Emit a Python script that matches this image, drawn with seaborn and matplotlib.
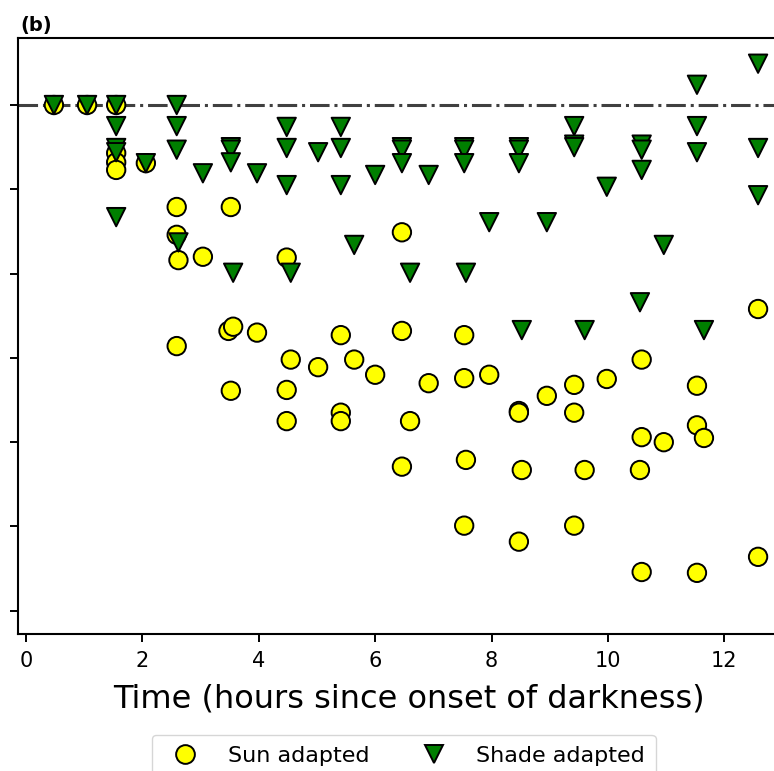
import matplotlib
matplotlib.use('Agg')
import matplotlib.pyplot as plt
import pandas as pd
import seaborn as sns

# Values (relative units, reference level = 1.0)
sun_time = [0.48, 1.05, 1.55, 1.55, 1.55, 1.55, 2.06,
            2.59, 2.59, 2.62, 2.59, 3.04,
            3.52, 3.48, 3.56, 3.52, 3.97,
            4.48, 4.55, 4.48, 4.48, 5.02,
            5.41, 5.41, 5.41, 5.64, 6.0,
            6.46, 6.46, 6.46, 6.60, 6.92,
            7.53, 7.53, 7.56, 7.53, 7.96,
            8.47, 8.47, 8.52, 8.47, 8.95,
            9.42, 9.42, 9.42, 9.60, 9.98,
            10.58, 10.58, 10.55, 10.58, 10.96,
            11.53, 11.53, 11.53, 11.65, 12.58, 12.58]
sun_value = [1.0, 1.0, 1.0, 0.943, 0.932, 0.923, 0.931,
             0.879, 0.846, 0.816, 0.714, 0.820,
             0.879, 0.732, 0.737, 0.661, 0.730,
             0.819, 0.698, 0.662, 0.625, 0.689,
             0.727, 0.635, 0.625, 0.698, 0.680,
             0.849, 0.732, 0.571, 0.625, 0.670,
             0.727, 0.676, 0.579, 0.501, 0.680,
             0.637, 0.635, 0.567, 0.482, 0.655,
             0.668, 0.635, 0.501, 0.567, 0.675,
             0.698, 0.606, 0.567, 0.446, 0.600,
             0.667, 0.620, 0.445, 0.605, 0.758, 0.464]

shade_time = [0.48, 1.05, 1.55, 1.55, 1.55, 1.55, 1.55, 2.06,
              2.59, 2.59, 2.59, 2.62, 3.04,
              3.52, 3.52, 3.52, 3.56, 3.97,
              4.48, 4.48, 4.48, 4.55, 5.02,
              5.41, 5.41, 5.41, 5.64, 6.0,
              6.46, 6.46, 6.46, 6.60, 6.92,
              7.53, 7.53, 7.53, 7.56, 7.96,
              8.47, 8.47, 8.47, 8.52, 8.95,
              9.42, 9.42, 9.42, 9.60, 9.98,
              10.58, 10.58, 10.58, 10.55, 10.96,
              11.53, 11.53, 11.53, 11.65,
              12.58, 12.58, 12.58]
shade_value = [1.0, 1.0, 1.0, 0.975, 0.949, 0.944, 0.867, 0.931,
               1.0, 0.975, 0.947, 0.837, 0.919,
               0.950, 0.947, 0.932, 0.801, 0.919,
               0.974, 0.949, 0.905, 0.801, 0.944,
               0.974, 0.949, 0.905, 0.834, 0.917,
               0.950, 0.947, 0.931, 0.801, 0.917,
               0.950, 0.947, 0.931, 0.801, 0.861,
               0.950, 0.947, 0.931, 0.733, 0.861,
               0.975, 0.953, 0.950, 0.733, 0.903,
               0.953, 0.947, 0.923, 0.766, 0.834,
               1.024, 0.975, 0.944, 0.733,
               1.049, 0.949, 0.893]

groups = ['Sun adapted', 'Shade adapted']
y_ticks = [0.4, 0.5, 0.6, 0.7, 0.8, 0.9, 1.0]
x_ticks = [0, 2, 4, 6, 8, 10, 12]

df = pd.DataFrame({
    'time': sun_time + shade_time,
    'value': sun_value + shade_value,
    'group': [groups[0]] * len(sun_time) + [groups[1]] * len(shade_time),
})

sns.set_style('ticks')
plt.rcParams['font.family'] = ['DejaVu Sans']
plt.rcParams['axes.edgecolor'] = 'black'
plt.rcParams['axes.linewidth'] = 1.5
plt.rcParams['text.color'] = 'black'
plt.rcParams['axes.labelcolor'] = 'black'
plt.rcParams['xtick.color'] = 'black'
plt.rcParams['ytick.color'] = 'black'

fig = plt.figure(figsize=(7.74, 7.71), dpi=100)
ax = fig.add_axes([18 / 774, 1 - 634.3 / 771, 1.0103, (634.3 - 38) / 771])

ax.axhline(1.0, color='#404040', linestyle='-.', linewidth=2.2, zorder=1)
sns.scatterplot(data=df, x='time', y='value', hue='group', style='group',
                markers={'Sun adapted': 'o', 'Shade adapted': 'v'},
                palette={'Sun adapted': '#ffff00', 'Shade adapted': '#007f00'},
                s=175, edgecolor='black', linewidth=1.4, ax=ax, zorder=3)

ax.set_xlim(-0.137, 13.3)
ax.set_ylim(0.3721, 1.0795)
ax.set_xticks(x_ticks)
ax.set_yticks(y_ticks)
ax.set_yticklabels([])
ax.tick_params(axis='both', length=6, width=1.4, color='black')
ax.tick_params(axis='x', labelsize=15, pad=6)
ax.set_xlabel('Time (hours since onset of darkness)', fontsize=23, labelpad=9)
ax.set_ylabel('')
for side in ['top', 'right', 'left', 'bottom']:
    ax.spines[side].set_visible(True)

handles, labels = ax.get_legend_handles_labels()
ax.legend_.remove()
for h in handles:
    h.set_markersize(13.5)
    h.set_markeredgecolor('black')
    h.set_markeredgewidth(1.4)
fig.legend(handles, labels, loc='upper left', bbox_to_anchor=(152 / 774, 1 - 735 / 771),
           borderaxespad=0, ncol=2, fontsize=16, frameon=True, columnspacing=1.9,
           handletextpad=0.9, borderpad=0.5, fancybox=True)

fig.text(20 / 774, 1 - 31 / 771, '(b)', fontsize=14, fontweight='bold')

fig.savefig('out.png', dpi=100)
